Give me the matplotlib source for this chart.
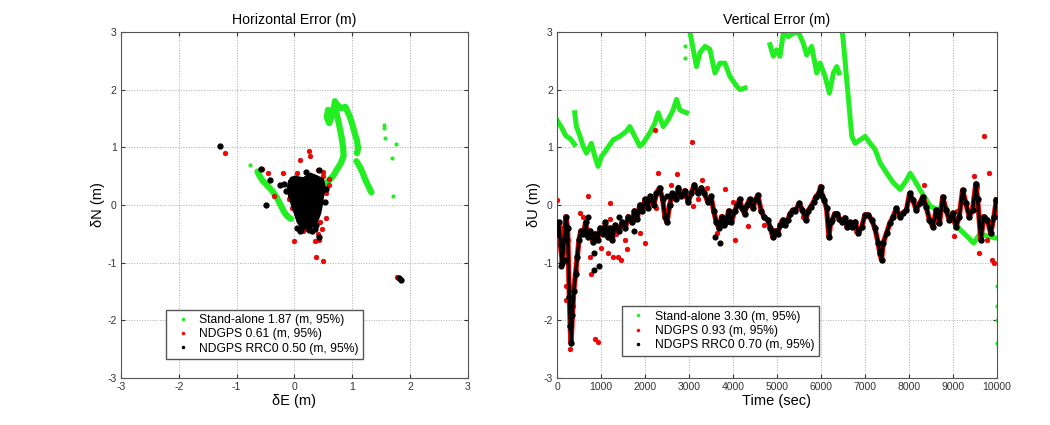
import numpy as np
import matplotlib
matplotlib.use('Agg')
import matplotlib.pyplot as plt

plt.rcParams['font.family'] = ['Liberation Sans', 'DejaVu Sans']
plt.rcParams['axes.unicode_minus'] = False

# ---------------- horizontal error (left) ----------------
# stand-alone track, pieces
sa_e1 = [-0.64, -0.6, -0.55, -0.47, -0.38, -0.3, -0.24, -0.18, -0.12, -0.06]
sa_n1 = [0.58, 0.5, 0.42, 0.34, 0.24, 0.12, 0.0, -0.12, -0.2, -0.24]
sa_e2 = [0.52, 0.61, 0.68, 0.73, 0.8, 0.85, 0.84, 0.82, 0.79, 0.76, 0.72, 0.7]
sa_n2 = [0.35, 0.44, 0.52, 0.61, 0.72, 0.85, 1.0, 1.15, 1.3, 1.45, 1.62, 1.8]
sa_e3 = [0.58, 0.56, 0.6, 0.65, 0.7]
sa_n3 = [1.65, 1.52, 1.42, 1.55, 1.78]
sa_e4 = [0.7, 0.8, 0.88, 0.95, 1.0, 1.04, 1.08, 1.1, 1.08]
sa_n4 = [1.78, 1.68, 1.7, 1.55, 1.4, 1.25, 1.12, 0.98, 0.9]
sa_e5 = [1.07, 1.12, 1.17, 1.22, 1.28, 1.33]
sa_n5 = [0.76, 0.68, 0.58, 0.45, 0.32, 0.22]
sa_e_dots = [-0.77, 1.54, 1.55, 1.56, 1.75, 1.68, 1.71]
sa_n_dots = [0.69, 1.39, 1.33, 1.16, 1.05, 0.81, 0.16]

# NDGPS outliers
nd_e = [-1.2, -0.57, -0.45, -0.2, -0.35, 0.1, 0.25, 0.27, 0.5, 0.6, 0.55, 0.55,
        0.48, 0.43, 0.35, 0.0, 0.38, 0.5, 1.78, 0.15, 0.3, -0.05, 0.05, 0.5,
        0.55, -0.05, -0.1, 0.4, 0.6, 0.45, 0.2, 0.4]
nd_n = [0.9, 0.62, 0.55, 0.55, 0.15, 0.78, 0.93, 0.85, 0.58, 0.45, 0.28, -0.22,
        -0.42, -0.6, -0.62, -0.62, -0.9, -0.97, -1.25, -0.45, -0.45, 0.3, 0.55, 0.5,
        0.2, -0.05, 0.1, -0.5, 0.35, -0.3, -0.42, 0.6]

# NDGPS RRC0: dense core outline + scattered points
rr_core_e = [-0.1, 0.0, 0.15, 0.28, 0.4, 0.5, 0.53, 0.5, 0.48, 0.45, 0.4, 0.33,
             0.25, 0.12, 0.05, 0.0, -0.05, -0.1, -0.12]
rr_core_n = [0.42, 0.5, 0.47, 0.55, 0.5, 0.45, 0.3, 0.15, 0.0, -0.15, -0.28, -0.37,
             -0.42, -0.4, -0.3, -0.15, 0.0, 0.15, 0.3]
rr_e = [-1.28, -0.5, -0.43, -0.25, -0.18, -0.58, 1.84, 1.8, 0.43, 0.35, 0.05, 0.12,
        0.55, 0.42, 0.3, 0.2, 0.38, -0.15, -0.05, 0.52, 0.1, 0.25]
rr_n = [1.02, 0.0, 0.43, 0.35, 0.37, 0.62, -1.3, -1.27, -0.55, -0.42, -0.4, -0.42,
        0.28, 0.6, -0.45, 0.58, -0.35, 0.25, 0.45, 0.05, -0.45, -0.43]

# ---------------- vertical error (right) ----------------
sa_t1 = [0, 100, 200, 300, 400]
sa_u1 = [1.47, 1.35, 1.2, 1.15, 1.05]
sa_t2 = [402, 440, 520, 592, 668, 781, 857, 933, 1009, 1123, 1275, 1426, 1578, 1654,
         1768, 1882, 1957, 2109, 2223, 2299, 2413, 2527, 2640, 2716, 2792, 2868, 2944]
sa_u2 = [1.6, 1.36, 1.2, 1.02, 0.9, 1.07, 0.85, 0.67, 0.84, 0.96, 1.13, 1.19, 1.28,
         1.36, 1.19, 1.02, 1.07, 1.25, 1.42, 1.6, 1.36, 1.48, 1.65, 1.83, 1.65, 1.62, 1.6]
sa_t3 = [2960, 3020, 3171, 3247, 3361, 3475, 3589, 3703, 3816, 3930, 4082, 4158, 4272]
sa_u3 = [3.1, 3.0, 2.4, 2.64, 2.75, 2.7, 2.29, 2.46, 2.46, 2.23, 2.06, 2.0, 2.03]
sa_t4 = [4841, 4917, 4992, 5068, 5144, 5258, 5372, 5486, 5600, 5675, 5789, 5903, 5979,
         6093, 6191, 6282, 6358, 6411]
sa_u4 = [2.78, 2.58, 2.69, 2.58, 2.98, 2.92, 2.98, 3.0, 2.8, 2.6, 2.75, 2.29, 2.46,
         2.23, 1.94, 2.29, 2.4, 2.29]
sa_t5 = [6460, 6500, 6700, 6775, 6889, 7003, 7117, 7231, 7345, 7496, 7648, 7800, 7951,
         8027, 8141, 8293, 8483, 8634, 8824, 8976, 9165, 9317, 9469, 9621, 9772, 9962]
sa_u5 = [3.1, 2.9, 1.19, 1.07, 1.13, 1.19, 1.07, 0.96, 0.73, 0.55, 0.38, 0.27, 0.44,
         0.55, 0.41, 0.21, -0.02, -0.08, -0.02, -0.25, -0.43, -0.54, -0.66, -0.49,
         -0.54, -0.57]
sa_t_dots = [2900, 2900, 9990, 9990, 9990, 9990]
sa_u_dots = [2.75, 2.55, -1.4, -1.75, -2.0, -2.4]

rr_t = [0, 40, 80, 120, 160, 200, 240, 280, 300, 320, 350, 380, 420, 460, 500, 540,
        600, 650, 700, 760, 820, 870, 920, 980, 1050, 1100, 1150, 1200, 1260, 1320,
        1400, 1480, 1550, 1620, 1700, 1760, 1820, 1880, 1940, 2000, 2060, 2120, 2200,
        2260, 2330, 2400, 2450, 2500, 2560, 2620, 2700, 2760, 2820, 2900, 2980, 3050,
        3120, 3200, 3280, 3350, 3430, 3500, 3560, 3620, 3680, 3740, 3800, 3850, 3900,
        3960, 4040, 4100, 4150, 4200, 4263, 4320, 4376, 4450, 4520, 4564, 4639, 4700,
        4789, 4850, 4902, 4960, 5015, 5070, 5128, 5180, 5241, 5300, 5353, 5420, 5504,
        5579, 5654, 5710, 5767, 5830, 5880, 5950, 5992, 6030, 6068, 6128, 6180, 6220,
        6256, 6310, 6368, 6420, 6481, 6540, 6594, 6650, 6700, 6775, 6850, 6925, 7000,
        7075, 7150, 7225, 7300, 7338, 7376, 7414, 7489, 7564, 7639, 7714, 7789, 7865,
        7940, 8015, 8090, 8165, 8240, 8316, 8391, 8466, 8541, 8617, 8692, 8767, 8842,
        8917, 8992, 9068, 9143, 9218, 9293, 9368, 9444, 9519, 9560, 9632, 9700, 9782,
        9857, 9932, 9985]
rr_u = [-0.5, -0.3, -0.7, -1.0, -0.6, -0.2, -0.4, -1.6, -2.1, -2.4, -1.9, -1.5, -1.2,
        -0.9, -0.6, -0.45, -0.5, -0.3, -0.55, -0.45, -0.65, -0.5, -0.6, -0.4, -0.5,
        -0.3, -0.55, -0.4, -0.6, -0.35, -0.45, -0.3, -0.4, -0.2, -0.3, -0.1, -0.25,
        0.0, -0.1, 0.1, -0.05, 0.15, 0.0, 0.2, 0.3, 0.1, -0.2, -0.3, 0.0, 0.2, 0.1, 0.3,
        0.15, 0.25, 0.05, 0.2, 0.35, 0.2, 0.3, 0.2, 0.05, 0.15, -0.1, -0.3, -0.4, -0.2,
        -0.35, -0.3, -0.1, -0.3, -0.1, 0.0, 0.1, -0.05, -0.15, 0.0, 0.1, -0.05, 0.1,
        0.17, -0.1, -0.2, -0.26, -0.4, -0.55, -0.45, -0.5, -0.35, -0.26, -0.35, -0.26,
        -0.15, -0.09, -0.1, 0.03, -0.09, -0.26, -0.1, -0.03, 0.05, 0.14, 0.2, 0.32,
        0.15, 0.09, -0.06, -0.55, -0.3, -0.26, -0.15, -0.15, -0.25, -0.29, -0.22,
        -0.38, -0.3, -0.38, -0.29, -0.49, -0.38, -0.17, -0.17, -0.26, -0.4, -0.66,
        -0.84, -0.95, -0.66, -0.49, -0.32, -0.2, -0.06, -0.2, -0.14, -0.09, 0.2, 0.09,
        -0.09, 0.03, 0.14, -0.03, -0.26, -0.38, -0.09, -0.32, 0.14, -0.09, -0.26,
        -0.14, -0.38, -0.2, 0.26, 0.03, -0.2, -0.09, 0.37, 0.1, -0.6, -0.2, -0.26,
        -0.49, -0.2, 0.09]
rr_t_out = [846, 846, 950, 3700, 100, 180, 700, 1400, 1750, 2500, 3600]
rr_u_out = [-0.84, -1.13, -1.05, -0.66, -1.05, -0.95, -0.2, -0.2, -0.45, 0.15, -0.55]

nd_t = [0, 80, 150, 210, 210, 290, 300, 360, 360, 440, 516, 705, 781, 857, 933, 740,
        1160, 1275, 1390, 1465, 1593, 1199, 1882, 1995, 2223, 2299, 2261, 2716, 2754,
        3058, 3096, 3285, 3816, 3627, 4044, 4348, 8331, 9014, 9469, 9545, 9697, 9772,
        9583, 9810, 9886, 9924, 9962, 250, 600, 1000, 2450, 3400, 4700, 6800, 8600,
        1200, 1330, 1550, 2600, 3200, 4000, 5600, 7350, 9100]
nd_u = [0.09, -0.4, -0.8, -1.4, -1.65, -2.2, -2.5, -1.5, -1.75, -1.15, -0.14, 0.15,
        -1.2, -2.32, -2.37, -0.9, -0.83, -0.9, -0.9, -0.95, -0.77, 0.03, -0.49, -0.66,
        1.3, 0.55, -0.05, 0.53, 0.32, 1.1, -0.02, 0.44, 0.27, -0.49, -0.6, -0.37, 0.35,
        -0.54, 0.5, 0.32, 1.19, -0.6, -0.83, 0.55, -0.95, -1.0, 0.09, -0.6, -0.2,
        -0.75, -0.1, 0.3, -0.35, -0.45, -0.3, -0.25, -0.5, -0.6, 0.35, 0.1, 0.05,
        -0.2, -0.8, -0.1]

GREEN = '#22ee22'
fig = plt.figure(figsize=(10.5, 4.25), dpi=100)
ax1 = fig.add_axes([0.1152, 0.1106, 0.3305, 0.8141])
ax2 = fig.add_axes([0.5305, 0.1106, 0.419, 0.8141])

# left panel
for e, n in [(sa_e1, sa_n1), (sa_e2, sa_n2), (sa_e3, sa_n3), (sa_e4, sa_n4), (sa_e5, sa_n5)]:
    ax1.plot(e, n, '-', color=GREEN, lw=4.5, solid_capstyle='round', zorder=2)
ax1.plot(sa_e_dots, sa_n_dots, '.', color=GREEN, ms=4, zorder=2)
ax1.plot(nd_e, nd_n, 'o', color='red', ms=3.5, mec='#aa0000', mew=0.3, zorder=3)
ax1.fill(rr_core_e, rr_core_n, color='black', zorder=4)
ax1.plot(rr_e, rr_n, 'o', color='black', ms=3.5, zorder=4)
ax1.plot([], [], '.', color=GREEN, ms=3, label='Stand-alone 1.87 (m, 95%)')
ax1.plot([], [], '.', color='red', ms=3, label='NDGPS 0.61 (m, 95%)')
ax1.plot([], [], '.', color='black', ms=3, label='NDGPS RRC0 0.50 (m, 95%)')
ax1.set_xlim(-3, 3)
ax1.set_ylim(-3, 3)
ax1.set_title('Horizontal Error (m)', fontsize=10.2)
ax1.set_xlabel('δE (m)', fontsize=10.5, labelpad=1)
ax1.set_ylabel('δN (m)', fontsize=10.5, labelpad=2)
ax1.legend(loc='lower left', bbox_to_anchor=(0.113, 0.038), fontsize=8.7,
           fancybox=False, edgecolor='#555555', framealpha=1, handletextpad=0.4,
           borderpad=0.35, labelspacing=0.2)

# right panel
for t, u in [(sa_t1, sa_u1), (sa_t2, sa_u2), (sa_t3, sa_u3), (sa_t4, sa_u4), (sa_t5, sa_u5)]:
    ax2.plot(t, u, '-', color=GREEN, lw=3.6, zorder=2)
ax2.plot(sa_t_dots, sa_u_dots, '.', color=GREEN, ms=4, zorder=2)
ax2.plot(nd_t, nd_u, 'o', color='red', ms=3.5, mec='#aa0000', mew=0.3, zorder=3)
ax2.plot(rr_t, rr_u, '-', color='red', lw=3.8, zorder=3)
ax2.plot(rr_t, rr_u, 'o-', color='black', lw=2.4, ms=3.6, zorder=4)
ax2.plot(rr_t_out, rr_u_out, 'o', color='black', ms=3.4, zorder=4)
ax2.plot([], [], '.', color=GREEN, ms=3, label='Stand-alone 3.30 (m, 95%)')
ax2.plot([], [], '.', color='red', ms=3, label='NDGPS 0.93 (m, 95%)')
ax2.plot([], [], '.', color='black', ms=3, label='NDGPS RRC0 0.70 (m, 95%)')
ax2.set_xlim(0, 10000)
ax2.set_ylim(-3, 3)
ax2.set_xticks(np.arange(0, 10001, 1000))
ax2.set_title('Vertical Error (m)', fontsize=10.2)
ax2.set_xlabel('Time (sec)', fontsize=10.5, labelpad=1)
ax2.set_ylabel('δU (m)', fontsize=10.5, labelpad=2)
ax2.legend(loc='lower left', bbox_to_anchor=(0.133, 0.047), fontsize=8.7,
           fancybox=False, edgecolor='#555555', framealpha=1, handletextpad=0.4,
           borderpad=0.35, labelspacing=0.2)

for ax in (ax1, ax2):
    ax.grid(True, linestyle=':', color='#aaaaaa', lw=0.7)
    ax.set_axisbelow(True)
    ax.tick_params(direction='in', top=True, right=True, length=3, labelsize=7.5,
                   pad=3, colors='#333333')
    for s in ax.spines.values():
        s.set_color('#555555')
        s.set_linewidth(0.8)

fig.savefig('out.png', dpi=100)
